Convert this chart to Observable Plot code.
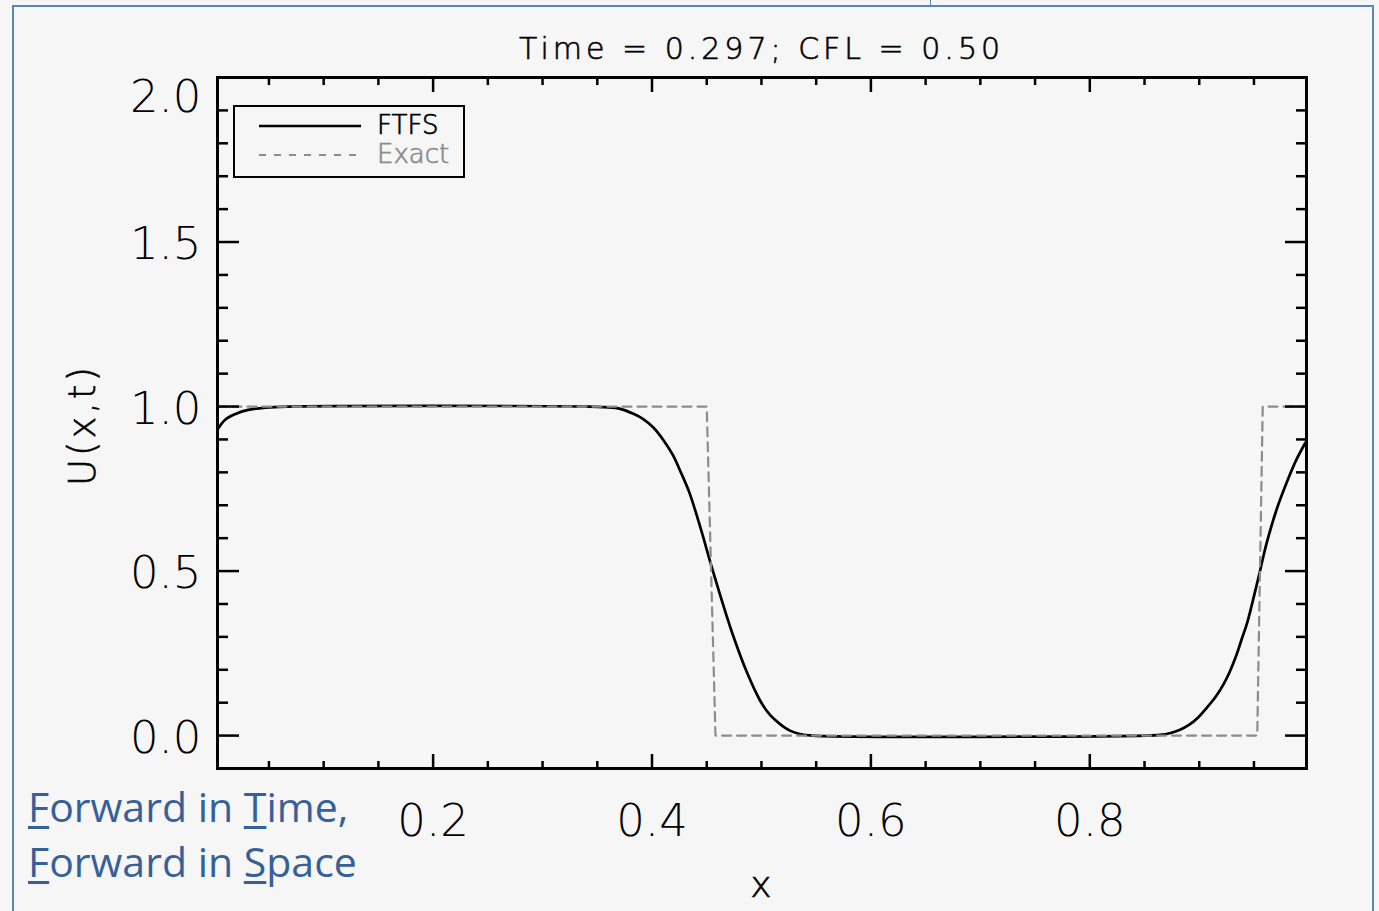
<!DOCTYPE html>
<html>
<head>
<meta charset="utf-8">
<script src="https://cdn.jsdelivr.net/npm/d3@7"></script>
<script src="https://cdn.jsdelivr.net/npm/@observablehq/plot@0.6"></script>
<style>
  html, body { margin: 0; padding: 0; background: #f6f6f6; }
  #wrap { position: relative; width: 1379px; height: 911px; overflow: hidden; background: #f6f6f6; }
  #chart { position: absolute; left: 0; top: 0; }
  .abs { position: absolute; white-space: pre; }
  #title { left: 519px; top: 31px; font-family: "DejaVu Sans", sans-serif; font-weight: 200; font-size: 30px; letter-spacing: 4px; color: #000; -webkit-text-stroke: 0.6px #000; }
  #ylab { left: 82px; top: 425px; font-family: "DejaVu Sans", sans-serif; font-weight: 200; font-size: 37px; letter-spacing: 3px; transform: translate(-50%, -50%) rotate(-90deg); color:#000; -webkit-text-stroke: 0.6px #000; }
  #xlab { left: 761px; top: 864px; transform: translateX(-50%); font-family: "DejaVu Sans", sans-serif; font-weight: 200; font-size: 36px; color:#000; -webkit-text-stroke: 0.6px #000; }
  #legend { left: 233px; top: 105px; width: 228px; height: 69px; border: 2.5px solid #000; box-sizing: content-box; }
  #legend svg { position: absolute; left: 0; top: 0; }
  .legtxt { position: absolute; font-family: "DejaVu Sans", sans-serif; font-weight: 200; font-size: 26px; -webkit-text-stroke: 0.7px currentColor; }
  #note { left: 28px; top: 779px; font-family: "Open Sans", sans-serif; font-size: 41px; line-height: 55px; color: #36609a; }
  #note u { text-decoration-thickness: 3px; text-underline-offset: 4px; }
  .frame { position: absolute; background: #5b86bd; }
  #chart text { -webkit-text-stroke: 0.7px #000; }
</style>
</head>
<body>
<div id="wrap">
  <div class="frame" style="left:12px; top:5px; width:1361px; height:2px;"></div>
  <div class="frame" style="left:12px; top:5px; width:2px; height:906px;"></div>
  <div class="frame" style="left:1372px; top:5px; width:2px; height:906px;"></div>
  <div class="frame" style="left:930px; top:0px; width:1px; height:6px;"></div>
  <div id="chart"></div>
  <div id="title" class="abs">Time = 0.297; CFL = 0.50</div>
  <div id="ylab" class="abs">U(x,t)</div>
  <div id="xlab" class="abs">x</div>
  <div id="legend" class="abs">
    <svg width="228" height="69">
      <line x1="24" x2="126" y1="19" y2="19" stroke="#000" stroke-width="2.5"></line>
      <line x1="24" x2="126" y1="48" y2="48" stroke="#8c8c8c" stroke-width="2" stroke-dasharray="7,8"></line>
    </svg>
    <div class="legtxt" style="left:142px; top:3px; color:#000;">FTFS</div>
    <div class="legtxt" style="left:142px; top:32px; color:#8c8c8c;">Exact</div>
  </div>
  <div id="note" class="abs"><u>F</u>orward in <u>T</u>ime,
<u>F</u>orward in <u>S</u>pace</div>
</div>
<script>
// FTFS numerical solution
const ftfsX = [0.003, 0.010, 0.020, 0.030, 0.047, 0.067, 0.342, 0.357, 0.371, 0.383, 0.392, 0.401, 0.410, 0.419, 0.427, 0.434, 0.444, 0.453, 0.462, 0.474, 0.487, 0.499, 0.508, 0.517, 0.526, 0.535, 0.547, 0.852, 0.864, 0.873, 0.882, 0.891, 0.899, 0.907, 0.915, 0.922, 0.928, 0.934, 0.939, 0.944, 0.953, 0.962, 0.971, 0.980, 0.989, 0.997];
const ftfsU = [0.930, 0.960, 0.978, 0.989, 0.997, 1.000, 1.000, 0.998, 0.993, 0.978, 0.962, 0.937, 0.900, 0.853, 0.795, 0.740, 0.635, 0.530, 0.430, 0.305, 0.190, 0.105, 0.062, 0.035, 0.015, 0.005, 0.000, 0.000, 0.002, 0.007, 0.017, 0.033, 0.055, 0.085, 0.118, 0.155, 0.195, 0.245, 0.295, 0.345, 0.465, 0.590, 0.690, 0.770, 0.840, 0.890];
// Exact solution
const exactX = [0.003, 0.450, 0.458, 0.953, 0.958, 0.998];
const exactU = [1, 1, 0, 0, 1, 1];
// Ticks
const xMajor = [0.2, 0.4, 0.6, 0.8];
const xMinor = [0.05, 0.1, 0.15, 0.25, 0.3, 0.35, 0.45, 0.5, 0.55, 0.65, 0.7, 0.75, 0.85, 0.9, 0.95];
const yMajor = [0.0, 0.5, 1.0, 1.5, 2.0];
const yLabelsMid = [0.0, 0.5, 1.0, 1.5];
const yLabelsTop = [2.0];
const yMinor = [0.1, 0.2, 0.3, 0.4, 0.6, 0.7, 0.8, 0.9, 1.1, 1.2, 1.3, 1.4, 1.6, 1.7, 1.8, 1.9];

const ftfs = ftfsX.map((x, i) => ({x, u: ftfsU[i]}));
const exact = exactX.map((x, i) => ({x, u: exactU[i]}));
const blank = () => "";
const fmt = d3.format(".1f");
const labelFont = {fontSize: 45, fontWeight: 200};

const plot = Plot.plot({
  width: 1379,
  height: 911,
  marginLeft: 217,
  marginRight: 73,
  marginTop: 77,
  marginBottom: 143,
  style: {background: "transparent", overflow: "visible", fontFamily: "DejaVu Sans, sans-serif", color: "#000"},
  x: {domain: [0.003, 0.998]},
  y: {domain: [-0.1, 2.0]},
  marks: [
    Plot.line(ftfs, {x: "x", y: "u", stroke: "#000", strokeWidth: 2.7, curve: "catmull-rom"}),
    Plot.line(exact, {x: "x", y: "u", stroke: "#8c8c8c", strokeWidth: 2.2, strokeDasharray: "9,6"}),
    Plot.frame({stroke: "#000", strokeWidth: 3}),
    // inward ticks
    Plot.axisX({ticks: xMajor, anchor: "bottom", tickSize: -14, strokeWidth: 2.5, tickFormat: blank, label: null}),
    Plot.axisX({ticks: xMinor, anchor: "bottom", tickSize: -7, strokeWidth: 2.5, tickFormat: blank, label: null}),
    Plot.axisX({ticks: xMajor, anchor: "top", tickSize: -14, strokeWidth: 2.5, tickFormat: blank, label: null}),
    Plot.axisX({ticks: xMinor, anchor: "top", tickSize: -7, strokeWidth: 2.5, tickFormat: blank, label: null}),
    Plot.axisY({ticks: yMajor, anchor: "left", tickSize: -22, strokeWidth: 2.5, tickFormat: blank, label: null}),
    Plot.axisY({ticks: yMinor, anchor: "left", tickSize: -11, strokeWidth: 2.5, tickFormat: blank, label: null}),
    Plot.axisY({ticks: yMajor, anchor: "right", tickSize: -22, strokeWidth: 2.5, tickFormat: blank, label: null}),
    Plot.axisY({ticks: yMinor, anchor: "right", tickSize: -11, strokeWidth: 2.5, tickFormat: blank, label: null}),
    // tick labels
    Plot.axisX({ticks: xMajor, anchor: "bottom", tickSize: 0, tickPadding: 36, tickFormat: fmt, label: null, ...labelFont}),
    Plot.axisY({ticks: yLabelsMid, anchor: "left", tickSize: 0, tickPadding: 16, dy: 3, tickFormat: fmt, label: null, ...labelFont}),
    Plot.axisY({ticks: yLabelsTop, anchor: "left", tickSize: 0, tickPadding: 16, dy: 20, tickFormat: fmt, label: null, ...labelFont})
  ]
});
document.getElementById("chart").appendChild(plot);
</script>
</body>
</html>
